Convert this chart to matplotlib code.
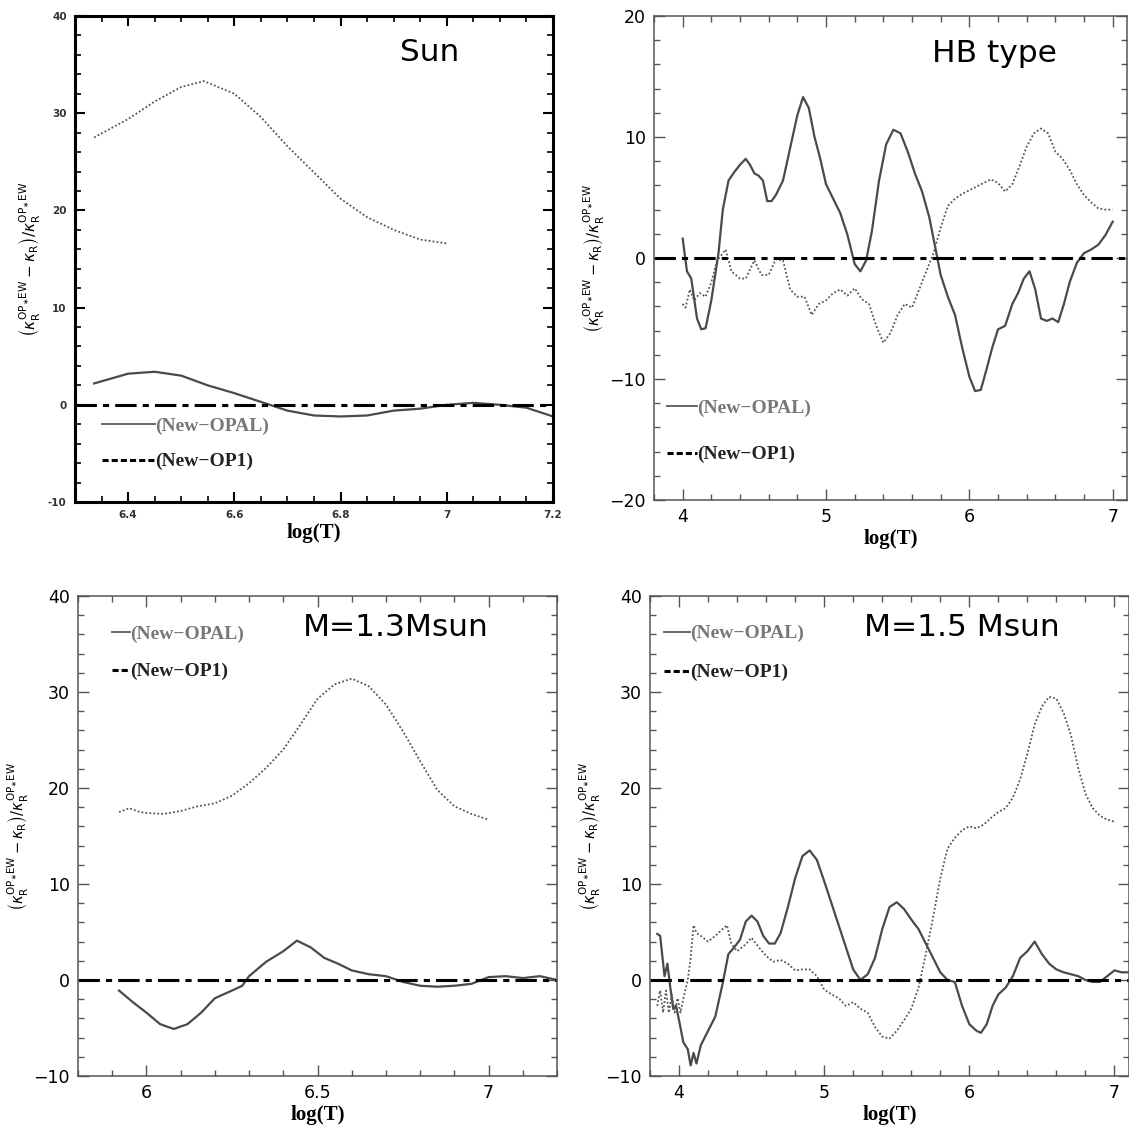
import numpy as np
import matplotlib
matplotlib.use("Agg")
import matplotlib.pyplot as plt
from matplotlib.lines import Line2D
from matplotlib.ticker import MultipleLocator, FuncFormatter

# ---- Sun ----
sun_opal_x = [6.336, 6.4, 6.45, 6.5, 6.55, 6.6, 6.65, 6.7, 6.75, 6.8, 6.85, 6.9, 6.95, 7.0, 7.05, 7.1, 7.15, 7.2]
sun_opal_y = [2.2, 3.2, 3.4, 3.0, 2.0, 1.2, 0.3, -0.6, -1.1, -1.2, -1.1, -0.6, -0.4, 0.0, 0.2, 0.0, -0.3, -1.2]
sun_op1_x = [6.336, 6.4, 6.45, 6.5, 6.543, 6.6, 6.65, 6.7, 6.75, 6.8, 6.85, 6.9, 6.95, 7.0]
sun_op1_y = [27.5, 29.4, 31.2, 32.7, 33.3, 32.0, 29.6, 26.6, 23.9, 21.2, 19.3, 18.0, 17.0, 16.6]

# ---- HB type ----
hb_opal_x = [4.0, 4.03, 4.06, 4.1, 4.13, 4.16, 4.2, 4.25, 4.28, 4.32, 4.36, 4.4, 4.44, 4.47, 4.5, 4.53,
             4.56, 4.59, 4.62, 4.65, 4.7, 4.75, 4.8, 4.84, 4.88, 4.92, 4.96, 5.0, 5.05, 5.1, 5.15, 5.2,
             5.24, 5.28, 5.32, 5.37, 5.42, 5.47, 5.52, 5.57, 5.62, 5.67, 5.72, 5.76, 5.8, 5.85, 5.9,
             5.95, 6.0, 6.04, 6.08, 6.12, 6.16, 6.2, 6.25, 6.3, 6.34, 6.38, 6.42, 6.46, 6.5, 6.54, 6.58,
             6.62, 6.66, 6.7, 6.75, 6.8, 6.85, 6.9, 6.95, 7.0]
hb_opal_y = [1.6, -1.1, -1.7, -5.0, -5.9, -5.8, -3.5, 0.4, 4.0, 6.4, 7.1, 7.7, 8.2, 7.7, 7.0, 6.8,
             6.4, 4.7, 4.7, 5.2, 6.4, 9.1, 11.8, 13.3, 12.4, 10.0, 8.2, 6.1, 4.9, 3.7, 1.9, -0.5,
             -1.1, -0.2, 2.2, 6.4, 9.4, 10.6, 10.3, 8.8, 7.0, 5.5, 3.4, 1.0, -1.4, -3.2, -4.7,
             -7.4, -9.8, -11.0, -10.9, -9.2, -7.4, -5.9, -5.6, -3.8, -2.9, -1.7, -1.1, -2.6, -5.0, -5.2, -5.0,
             -5.3, -3.8, -2.0, -0.4, 0.4, 0.7, 1.1, 1.9, 3.0]
hb_op1_x = [4.0, 4.02, 4.05, 4.08, 4.12, 4.16, 4.2, 4.24, 4.3, 4.34, 4.4, 4.44, 4.5, 4.55, 4.6, 4.65,
            4.7, 4.75, 4.8, 4.85, 4.9, 4.95, 5.0, 5.05, 5.1, 5.15, 5.2, 5.25, 5.3, 5.35, 5.4, 5.45,
            5.5, 5.55, 5.6, 5.65, 5.7, 5.75, 5.8, 5.85, 5.9, 5.95, 6.0, 6.05, 6.1, 6.15, 6.2, 6.25,
            6.3, 6.35, 6.4, 6.45, 6.5, 6.55, 6.6, 6.65, 6.7, 6.75, 6.8, 6.85, 6.9, 6.95, 7.0]
hb_op1_y = [-3.8, -4.1, -2.6, -3.5, -2.9, -3.2, -2.0, -0.2, 0.7, -1.1, -1.7, -1.7, -0.2, -1.4, -1.4, -0.1,
            -0.2, -2.6, -3.2, -3.2, -4.7, -3.8, -3.5, -2.9, -2.6, -3.1, -2.5, -3.4, -3.8, -5.6, -7.0, -6.2,
            -4.7, -3.8, -4.1, -2.6, -1.1, 0.4, 2.5, 4.3, 4.9, 5.3, 5.6, 5.9, 6.2, 6.5, 6.2, 5.5,
            6.1, 7.6, 9.2, 10.3, 10.7, 10.3, 8.8, 8.2, 7.3, 6.1, 5.2, 4.6, 4.1, 4.0, 4.0]

# ---- M = 1.3 Msun ----
m13_opal_x = [5.92, 5.96, 6.0, 6.04, 6.08, 6.12, 6.16, 6.2, 6.25, 6.28, 6.3, 6.35, 6.4, 6.44, 6.48,
              6.52, 6.56, 6.6, 6.65, 6.7, 6.75, 6.8, 6.85, 6.9, 6.95, 7.0, 7.05, 7.1, 7.15, 7.2]
m13_opal_y = [-1.1, -2.3, -3.4, -4.6, -5.1, -4.6, -3.4, -1.9, -1.1, -0.6, 0.4, 1.9, 3.0, 4.1, 3.4,
              2.3, 1.7, 1.0, 0.6, 0.4, -0.2, -0.6, -0.7, -0.6, -0.4, 0.3, 0.4, 0.2, 0.4, 0.0]
m13_op1_x = [5.92, 5.95, 5.98, 6.0, 6.05, 6.1, 6.15, 6.2, 6.25, 6.3, 6.35, 6.4, 6.45, 6.5, 6.55, 6.6,
             6.65, 6.7, 6.75, 6.8, 6.85, 6.9, 6.95, 7.0]
m13_op1_y = [17.5, 17.9, 17.5, 17.4, 17.3, 17.6, 18.1, 18.4, 19.2, 20.5, 22.1, 24.0, 26.6, 29.3, 30.8, 31.4,
             30.6, 28.7, 25.9, 22.8, 19.8, 18.1, 17.3, 16.7]

# ---- M = 1.5 Msun ----
m15_opal_x = [3.85, 3.87, 3.9, 3.92, 3.94, 3.96, 3.98, 4.0, 4.03, 4.06, 4.08, 4.1, 4.12, 4.15, 4.2, 4.25,
              4.3, 4.34, 4.38, 4.42, 4.46, 4.5, 4.54, 4.58, 4.62, 4.66, 4.7, 4.75, 4.8, 4.85, 4.9, 4.95,
              5.0, 5.05, 5.1, 5.15, 5.2, 5.25, 5.3, 5.35, 5.4, 5.45, 5.5, 5.55, 5.6, 5.65, 5.7, 5.75,
              5.8, 5.85, 5.9, 5.95, 6.0, 6.05, 6.08, 6.12, 6.16, 6.2, 6.25, 6.3, 6.35, 6.4, 6.45, 6.5,
              6.55, 6.6, 6.65, 6.7, 6.75, 6.8, 6.85, 6.9, 6.95, 7.0, 7.05, 7.1]
m15_opal_y = [4.8, 4.6, 0.4, 1.7, -0.8, -3.0, -2.7, -4.2, -6.5, -7.2, -8.9, -7.6, -8.7, -6.8, -5.3, -3.8,
              -0.4, 2.7, 3.4, 4.2, 6.1, 6.7, 6.1, 4.6, 3.8, 3.8, 4.9, 7.6, 10.6, 12.9, 13.5, 12.5,
              10.3, 8.0, 5.7, 3.4, 1.1, 0.0, 0.6, 2.3, 5.3, 7.6, 8.1, 7.4, 6.3, 5.3, 3.8, 2.3,
              0.8, 0.0, -0.2, -2.7, -4.6, -5.3, -5.5, -4.6, -2.7, -1.5, -0.8, 0.4, 2.3, 3.0, 4.0, 2.7,
              1.7, 1.1, 0.8, 0.6, 0.4, 0.0, -0.2, -0.2, 0.4, 1.0, 0.8, 0.8]
m15_op1_x = [3.85, 3.87, 3.89, 3.91, 3.93, 3.95, 3.97, 3.99, 4.01, 4.03, 4.06, 4.08, 4.1, 4.12, 4.15, 4.2,
             4.25, 4.3, 4.33, 4.36, 4.4, 4.45, 4.5, 4.55, 4.6, 4.65, 4.7, 4.75, 4.8, 4.85, 4.9, 4.95,
             5.0, 5.05, 5.1, 5.15, 5.2, 5.25, 5.3, 5.35, 5.4, 5.45, 5.5, 5.55, 5.6, 5.65, 5.7, 5.75,
             5.8, 5.85, 5.9, 5.95, 6.0, 6.05, 6.1, 6.15, 6.2, 6.25, 6.3, 6.35, 6.4, 6.45, 6.5, 6.55,
             6.6, 6.65, 6.7, 6.75, 6.8, 6.85, 6.9, 6.95, 7.0]
m15_op1_y = [-2.7, -1.1, -3.4, -1.1, -3.4, -1.5, -3.4, -1.9, -3.4, -1.9, 0.0, 2.3, 5.7, 4.9, 4.6, 4.0,
             4.6, 5.3, 5.7, 3.8, 3.0, 3.6, 4.4, 3.4, 2.5, 1.9, 2.1, 1.7, 1.0, 1.1, 1.1, 0.4,
             -1.0, -1.5, -1.9, -2.7, -2.3, -3.0, -3.4, -4.9, -5.9, -6.1, -5.3, -4.2, -3.0, -0.8, 2.7, 6.5,
             10.6, 13.7, 14.8, 15.6, 16.0, 15.8, 16.2, 16.9, 17.5, 17.9, 19.0, 20.9, 23.6, 26.6, 28.5, 29.5,
             29.3, 27.8, 25.5, 22.1, 19.4, 17.9, 17.1, 16.7, 16.5]

panels = [
    dict(opal=(sun_opal_x, sun_opal_y), op1=(sun_op1_x, sun_op1_y), title="Sun",
         rect=[75, 16, 553, 502], xlim=(6.3, 7.2), ylim=(-10, 40), xmaj=0.2, xmin=0.05,
         tpos=(0.741, 0.924), legpos=(0.0565, 0.120), hlen=2.73, lsp=0.94, old=True),
    dict(opal=(hb_opal_x, hb_opal_y), op1=(hb_op1_x, hb_op1_y), title="HB type",
         rect=[654, 16, 1127, 500], xlim=(3.8, 7.1), ylim=(-20, 20), xmaj=1, xmin=0.2,
         tpos=(0.719, 0.923), legpos=(0.027, 0.1415), hlen=1.54, lsp=1.46, old=False),
    dict(opal=(m13_opal_x, m13_opal_y), op1=(m13_op1_x, m13_op1_y), title="M=1.3Msun",
         rect=[78, 596, 557, 1076], xlim=(5.8, 7.2), ylim=(-10, 40), xmaj=0.5, xmin=0.1,
         tpos=(0.664, 0.935), legpos=(0.071, 0.882), hlen=0.93, lsp=1.04, old=False),
    dict(opal=(m15_opal_x, m15_opal_y), op1=(m15_op1_x, m15_op1_y), title="M=1.5 Msun",
         rect=[650, 596, 1129, 1076], xlim=(3.8, 7.1), ylim=(-10, 40), xmaj=1, xmin=0.2,
         tpos=(0.651, 0.935), legpos=(0.029, 0.881), hlen=1.34, lsp=1.1, old=False),
]

W, H = 1129, 1128
fig = plt.figure(figsize=(W / 100, H / 100), dpi=100)
ylab = r'$\left(\kappa_{\rm R}^{\rm OP_{\ast}EW}-\kappa_{\rm R}\right)/\kappa_{\rm R}^{\rm OP_{\ast}EW}$'

for p in panels:
    l, t, r, b = p["rect"]
    ax = fig.add_axes([l / W, 1 - b / H, (r - l) / W, (b - t) / H])
    ax.plot(*p["opal"], color="#4a4a4a", lw=1.6)
    ax.plot(*p["op1"], color="#555555", lw=1.3, ls=(0, (1, 1.2)))
    ax.axhline(0, color="black", lw=2.2, ls=(0, (7, 2, 2, 2)))
    ax.set_xlim(*p["xlim"])
    ax.set_ylim(*p["ylim"])
    ax.xaxis.set_major_locator(MultipleLocator(p["xmaj"]))
    ax.xaxis.set_minor_locator(MultipleLocator(p["xmin"]))
    ax.yaxis.set_major_locator(MultipleLocator(10))
    ax.yaxis.set_minor_locator(MultipleLocator(2))
    ax.tick_params(which="both", direction="in", top=True, right=True)
    if p["old"]:
        fmt = FuncFormatter(lambda v, pos: "%g" % v)
        ax.xaxis.set_major_formatter(fmt)
        ax.yaxis.set_major_formatter(fmt)
        ax.tick_params(which="major", length=7, width=1.5, labelsize=7.5, pad=6)
        ax.tick_params(which="minor", length=4, width=1.2)
        for s in ax.spines.values():
            s.set_linewidth(2.2)
        for lab in ax.get_xticklabels() + ax.get_yticklabels():
            lab.set_color("#333333")
            lab.set_fontweight("bold")
        ax.set_ylabel(ylab, fontsize=11, labelpad=4)
    else:
        fmt = FuncFormatter(lambda v, pos: ("%g" % v).replace("-", "\u2212"))
        ax.xaxis.set_major_formatter(fmt)
        ax.yaxis.set_major_formatter(fmt)
        ax.tick_params(which="major", length=8, width=1.0, labelsize=12.5, pad=6, color="#555555")
        ax.tick_params(which="minor", length=4, width=1.0, color="#555555")
        for s in ax.spines.values():
            s.set_linewidth(1.1)
            s.set_color("#555555")
        ax.set_ylabel(ylab, fontsize=10.5, labelpad=2)
    ax.set_xlabel("log(T)", fontsize=15, family="Liberation Serif", fontweight="bold", labelpad=2)
    ax.text(p["tpos"][0], p["tpos"][1], p["title"], transform=ax.transAxes, fontsize=22.5,
            ha="center", va="center")

    handles = [Line2D([], [], color="#666666", lw=1.4),
               Line2D([], [], color="black", lw=2.2, ls=(0, (2, 1)))]
    leg = ax.legend(handles, ["(New\u2212OPAL)", "(New\u2212OP1)"], loc="center left",
                    bbox_to_anchor=p["legpos"], frameon=False, handlelength=p["hlen"],
                    handletextpad=0.0, labelspacing=p["lsp"], borderpad=0, borderaxespad=0,
                    prop={"family": "Liberation Serif", "size": 14, "weight": "bold"})
    leg.get_texts()[0].set_color("#777777")
    leg.get_texts()[1].set_color("#222222")

fig.savefig("out.png", dpi=100)
